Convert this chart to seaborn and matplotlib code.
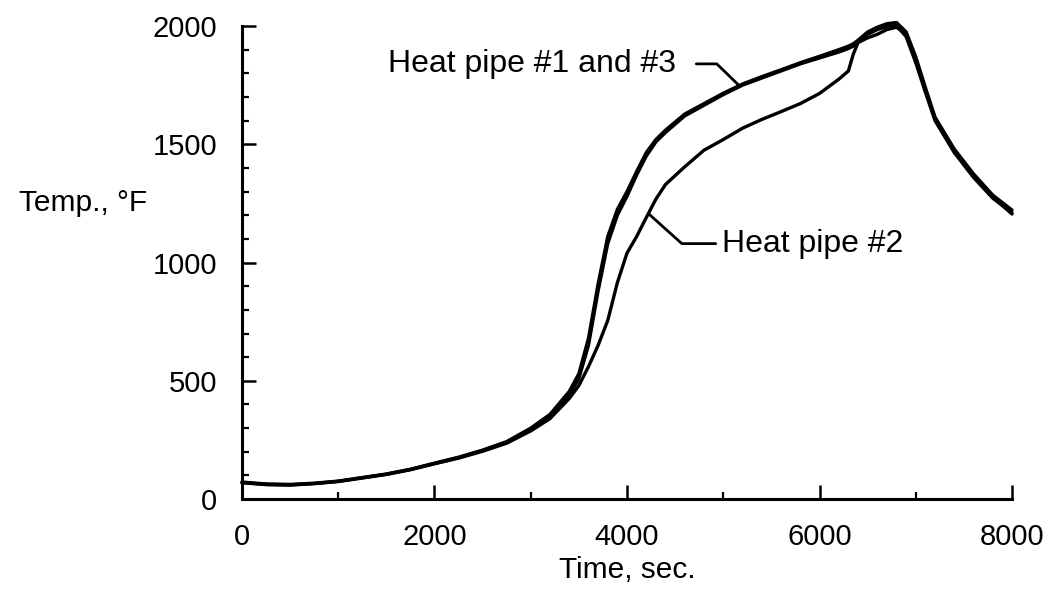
# -*- coding: utf-8 -*-
"""
Heat pipe temperature history
"""

import pandas as pd
import seaborn as sns
import matplotlib.pyplot as plt
from matplotlib.ticker import MultipleLocator

#%% data (sec, deg F)
time_s = [0, 250, 500, 750, 1000, 1250, 1500, 1750, 2000, 2250, 2500, 2750,
          3000, 3200, 3400, 3500, 3600, 3700, 3800, 3900, 4000, 4100, 4200,
          4300, 4400, 4600, 4800, 5000, 5200, 5400, 5600, 5800, 6000, 6200,
          6300, 6350, 6400, 6500, 6600, 6700, 6800, 6900, 7000, 7100, 7200,
          7400, 7600, 7800, 8000]

hp1 = [70, 62, 60, 66, 75, 90, 105, 125, 150, 175, 205, 240,
       295, 350, 440, 510, 650, 880, 1080, 1200, 1280, 1370, 1450,
       1510, 1550, 1620, 1665, 1710, 1750, 1780, 1810, 1840, 1865, 1890,
       1905, 1915, 1930, 1965, 1985, 1998, 2003, 1955, 1845, 1720, 1600,
       1465, 1360, 1272, 1210]

hp3 = [72, 64, 62, 67, 76, 91, 106, 126, 152, 177, 207, 243,
       300, 358, 455, 530, 680, 910, 1110, 1225, 1300, 1385, 1465,
       1520, 1560, 1628, 1672, 1716, 1755, 1786, 1815, 1845, 1872, 1900,
       1915, 1925, 1940, 1975, 1995, 2010, 2015, 1975, 1870, 1740, 1615,
       1480, 1375, 1285, 1222]

hp2 = [69, 61, 59, 65, 74, 89, 104, 124, 149, 173, 202, 236,
       288, 340, 425, 480, 560, 650, 755, 915, 1040, 1110, 1190,
       1268, 1330, 1405, 1475, 1520, 1568, 1605, 1638, 1672, 1715, 1775,
       1810, 1880, 1930, 1950, 1965, 1985, 1995, 1965, 1860, 1730, 1608,
       1470, 1365, 1278, 1205]

x_ticks = [0, 2000, 4000, 6000, 8000]
y_ticks = [0, 500, 1000, 1500, 2000]

df = pd.DataFrame({"Time": time_s, "#1": hp1, "#3": hp3, "#2": hp2})
long_df = df.melt(id_vars="Time", var_name="Pipe", value_name="Temp")

#%% style
sns.set_style("ticks")
plt.rcParams["font.family"] = ["Liberation Sans", "DejaVu Sans"]
plt.rcParams.update({"text.color": "black", "axes.labelcolor": "black",
                     "xtick.color": "black", "ytick.color": "black"})

fig = plt.figure(figsize=(10.52, 5.92), dpi=100)
ax = fig.add_axes([0.230, 0.157, 0.732, 0.799])

sns.lineplot(data=long_df, x="Time", y="Temp", units="Pipe", estimator=None,
             color="black", lw=2.4, legend=False, ax=ax, clip_on=False)

ax.set_xlim(0, 8000)
ax.set_ylim(0, 2000)
ax.set_xticks(x_ticks)
ax.set_yticks(y_ticks)
ax.xaxis.set_minor_locator(MultipleLocator(1000))
ax.yaxis.set_minor_locator(MultipleLocator(100))
ax.tick_params(which="major", direction="in", length=10, width=1.8,
               labelsize=21)
ax.tick_params(which="minor", direction="in", length=5, width=1.6)
ax.tick_params(axis="x", which="major", pad=17)
ax.tick_params(axis="y", which="major", pad=18)

sns.despine(ax=ax)
for side in ["left", "bottom"]:
    ax.spines[side].set_linewidth(2.2)
    ax.spines[side].set_color("black")

ax.set_xlabel("Time, sec.", fontsize=21.5, labelpad=4)
ax.set_ylabel("Temp., °F", fontsize=21.5, rotation=0, ha="right", va="center")
ax.yaxis.set_label_coords(-0.123, 0.626)

#%% labels with leader lines
ax.text(4508, 1840, "Heat pipe #1 and #3", fontsize=23, ha="right", va="center")
ax.plot([4720, 4933, 5161], [1840, 1840, 1750], color="black", lw=2.0)

ax.text(4984, 1080, "Heat pipe #2", fontsize=23, ha="left", va="center")
ax.plot([4228, 4570, 4922], [1205, 1080, 1080], color="black", lw=2.0)

plt.savefig("out.png", dpi=100)
